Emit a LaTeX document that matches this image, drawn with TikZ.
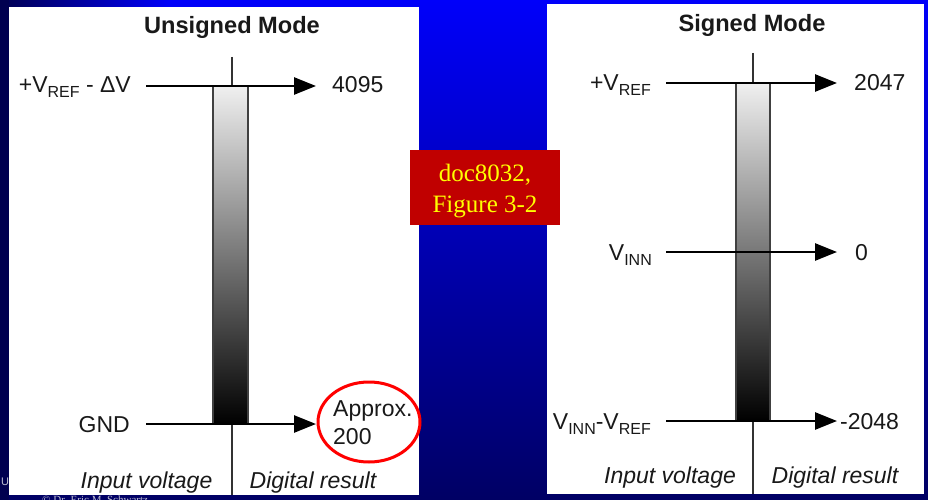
\documentclass[tikz,border=0pt]{standalone}
\usepackage{fontspec}
\setmainfont{Liberation Sans}
\newfontfamily\timesf{Liberation Serif}
\usetikzlibrary{arrows.meta,shapes.geometric}
\definecolor{bgtop}{RGB}{0,0,250}
\definecolor{bgbot}{RGB}{0,0,100}
\definecolor{bgdark}{RGB}{0,0,80}
\definecolor{boxred}{RGB}{192,0,0}
\definecolor{boxtxt}{RGB}{255,255,0}
\definecolor{foot}{RGB}{190,190,210}
\newcommand\subtxt[1]{\raisebox{-5pt}{\fontsize{16}{16}\selectfont #1}}
\begin{document}
\begin{tikzpicture}[x=1pt,y=-1pt,
  lbl/.style={font=\fontsize{23}{26}\selectfont, inner sep=0pt, text=black!90},
  ttl/.style={font=\fontsize{23.6}{26}\selectfont\bfseries, inner sep=0pt, text=black!90},
  captxt/.style={font=\fontsize{23}{26}\selectfont\itshape, inner sep=0pt, text=black!90},
  arr/.style={line width=2.6pt, -{Triangle[length=22pt,width=17pt]}},
  axis/.style={line width=1.6pt, draw=black!80},
  bar/.style={draw=black!75, line width=1.5pt, top color=black!6, bottom color=black, inner sep=0pt, outer sep=0pt},
  panel/.style={fill=white},
]
\useasboundingbox (0,0) rectangle (928,500);
% background
\shade[top color=bgtop, bottom color=bgbot] (0,0) rectangle (928,500);
\shade[left color=bgdark, right color=bgtop] (0,0) rectangle (170,8);
\fill[bgdark] (0,0) rectangle (9,500);
% hidden title fragment and footer
\node[font=\timesf\fontsize{40}{40}\selectfont, text=white, anchor=base, inner sep=0pt] (ttlfrag) at (490,-9) {g};
\node[font=\fontsize{11}{11}\selectfont, text=foot, anchor=base west, inner sep=0pt] (foot1) at (1,485) {Un};
\node[font=\timesf\fontsize{11}{11}\selectfont, text=foot, anchor=base west, inner sep=0pt] (foot2) at (42,503) {\textcopyright{} Dr. Eric M. Schwartz};
% panels
\fill[panel] (9,7) rectangle (419,495);
\fill[panel] (547,4) rectangle (924,494);

% ---------- Unsigned mode ----------
\node[ttl, anchor=base] (t1) at (232,34) {Unsigned Mode};
\coordinate (ax1t) at (232,57);
\coordinate (ax1b) at (232,495);
\draw[axis] (ax1t) -- (ax1b);
\node[bar, minimum width=35pt, minimum height=338pt] (bar1) at (230.5,255) {};
\node[lbl, anchor=base east] (l1) at (131,93) {+V\subtxt{REF} - ΔV};
\node[lbl, anchor=base west] (n1) at (332,93) {4095};
\node[lbl, anchor=base east] (l2) at (130,432) {GND};
\node[lbl, anchor=base west] (n2a) at (333,416) {Approx.};
\node[lbl, anchor=base west] (n2b) at (333,444) {200};
\coordinate (u1s) at (146,86);  \coordinate (u1e) at (316,86);
\coordinate (u2s) at (146,424); \coordinate (u2e) at (316,424);
\draw[arr] (u1s) -- (u1e);
\draw[arr] (u2s) -- (u2e);
\node[ellipse, draw=red, line width=3pt, minimum width=102pt, minimum height=80pt, inner sep=0pt] (circ) at (369,422) {};
\node[captxt, anchor=base] (c1) at (146.5,488) {Input voltage};
\node[captxt, anchor=base] (c2) at (313,488) {Digital result};

% ---------- Signed mode ----------
\node[ttl, anchor=base] (t2) at (752,32) {Signed Mode};
\coordinate (ax2t) at (753,53);
\coordinate (ax2b) at (753,494);
\draw[axis] (ax2t) -- (ax2b);
\node[bar, minimum width=34pt, minimum height=338pt] (bar2) at (753,252) {};
\node[lbl, anchor=base east] (r1) at (651,91) {+V\subtxt{REF}};
\node[lbl, anchor=base east] (r2) at (652,260) {V\subtxt{INN}};
\node[lbl, anchor=base east] (r3) at (651,429) {V\subtxt{INN}-V\subtxt{REF}};
\node[lbl, anchor=base west] (m1) at (854,91) {2047};
\node[lbl, anchor=base west] (m2) at (855,260) {0};
\node[lbl, anchor=base west] (m3) at (840,429) {-2048};
\coordinate (s1s) at (666,83);  \coordinate (s1e) at (837,83);
\coordinate (s2s) at (666,252); \coordinate (s2e) at (837,252);
\coordinate (s3s) at (666,421); \coordinate (s3e) at (837,421);
\draw[arr] (s1s) -- (s1e);
\draw[arr] (s2s) -- (s2e);
\draw[arr] (s3s) -- (s3e);
\node[captxt, anchor=base] (d1) at (670,483) {Input voltage};
\node[captxt, anchor=base] (d2) at (835,483) {Digital result};

% ---------- reference box ----------
\node[fill=boxred, minimum width=150pt, minimum height=75pt, inner sep=0pt] (ref) at (485,187.5) {};
\node[font=\timesf\fontsize{25}{30}\selectfont, text=boxtxt, anchor=base, inner sep=0pt] (ref1) at (485,181) {doc8032,};
\node[font=\timesf\fontsize{25}{30}\selectfont, text=boxtxt, anchor=base, inner sep=0pt] (ref2) at (485,212) {Figure 3-2};
\end{tikzpicture}
\end{document}
